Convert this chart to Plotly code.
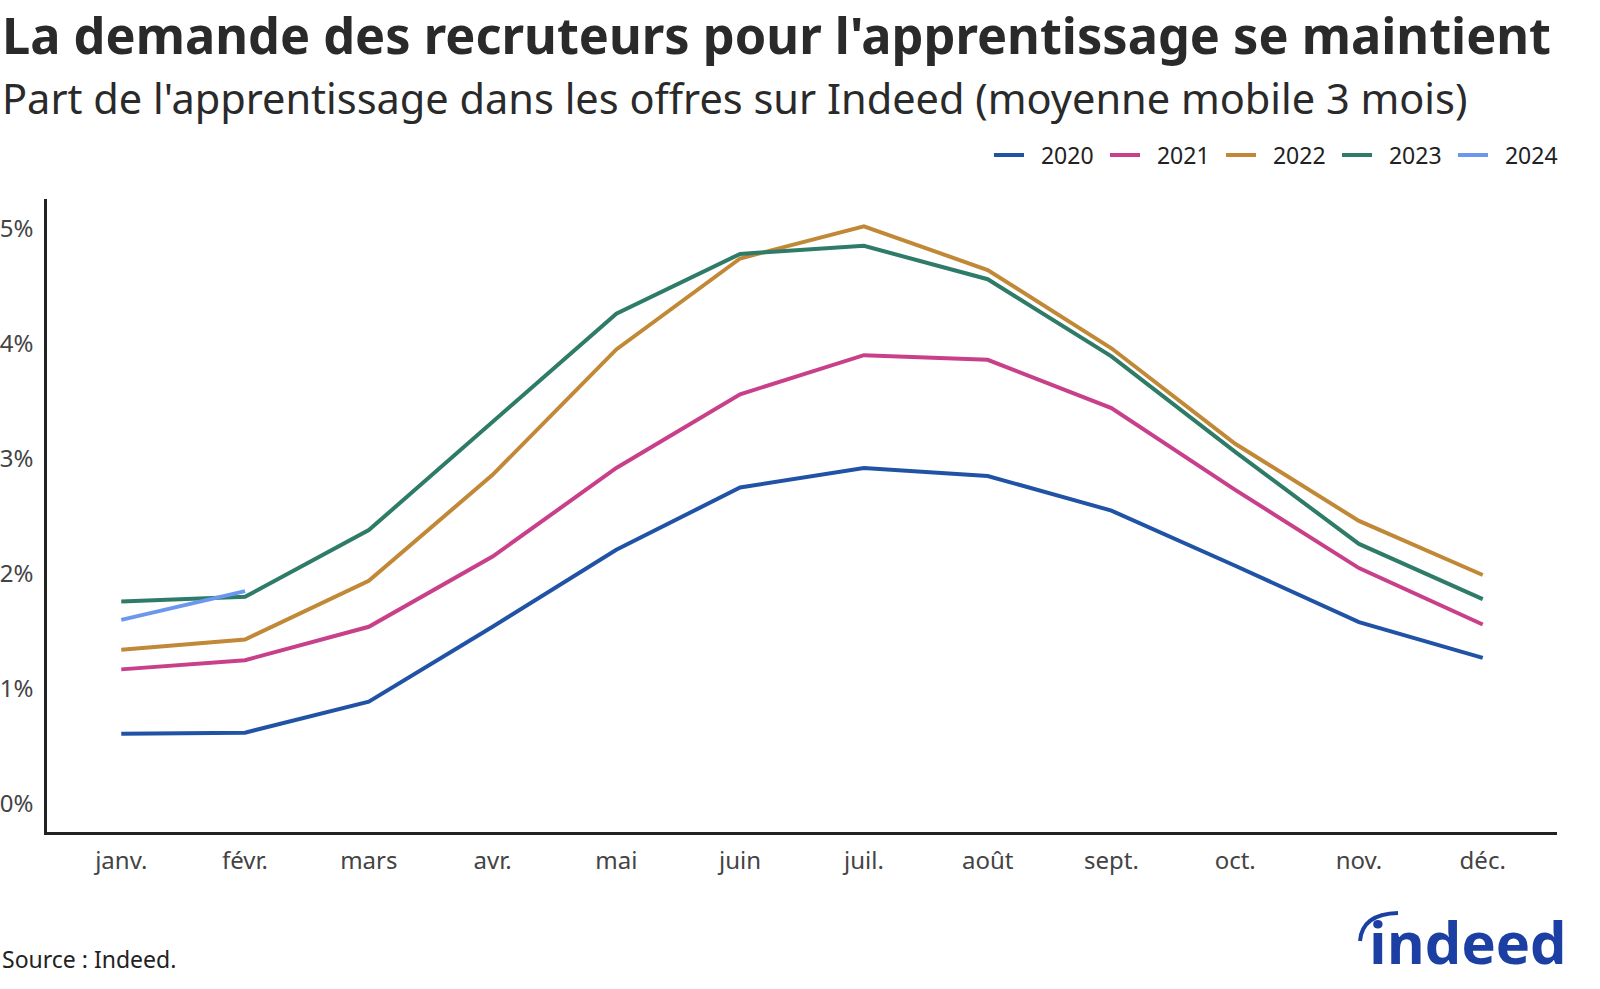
import plotly.graph_objects as go

months = ["janv.", "févr.", "mars", "avr.", "mai", "juin", "juil.", "août", "sept.", "oct.", "nov.", "déc."]
y2020 = [0.61, 0.62, 0.89, 1.54, 2.21, 2.75, 2.92, 2.85, 2.55, 2.07, 1.58, 1.27]
y2021 = [1.17, 1.25, 1.54, 2.15, 2.92, 3.56, 3.90, 3.86, 3.44, 2.73, 2.05, 1.56]
y2022 = [1.34, 1.43, 1.94, 2.86, 3.95, 4.74, 5.02, 4.64, 3.96, 3.13, 2.46, 1.99]
y2023 = [1.76, 1.80, 2.38, 3.32, 4.26, 4.78, 4.85, 4.56, 3.89, 3.06, 2.26, 1.78]
y2024 = [1.60, 1.85]
series = [("2020", y2020, "#2053a6"), ("2021", y2021, "#c9408a"), ("2022", y2022, "#c18937"),
          ("2023", y2023, "#2e7b68"), ("2024", y2024, "#6b98ee")]
yticks = [0, 1, 2, 3, 4, 5]
ytick_text = ["0%", "1%", "2%", "3%", "4%", "5%"]

W, H = 1600, 989
# plot area in page pixels: x 47..1557, y 199..832
L, R, T, B = 47, 1600 - 1557, 199, 989 - 832
pw, ph = W - L - R, H - T - B

def px(x):
    return (x - L) / pw

def py(y):
    return (H - B - y) / ph

fig = go.Figure()
for name, vals, col in series:
    fig.add_trace(go.Scatter(x=list(range(len(vals))), y=vals, mode="lines",
                             name="\u00a0\u00a0" + name, line=dict(color=col, width=4)))

font = "Noto Sans, Open Sans, sans-serif"
fig.update_layout(
    width=W, height=H, margin=dict(l=L, r=R, t=T, b=B, autoexpand=False),
    paper_bgcolor="white", plot_bgcolor="white",
    font=dict(family=font, color="#222"),
    showlegend=True,
    legend=dict(orientation="h", x=px(1569), xanchor="right", y=py(155), yanchor="middle",
                font=dict(size=23, color="#222"), itemwidth=30, traceorder="normal",
                entrywidth=71, entrywidthmode="pixels"),
    xaxis=dict(range=[-0.6, 11.6], tickmode="array", tickvals=list(range(12)), ticktext=months,
               showline=True, linecolor="#222", linewidth=2.5, showgrid=False, zeroline=False,
               ticks="", tickfont=dict(size=24, color="#444"), automargin=False,
               ticklabelstandoff=5),
    yaxis=dict(range=[-0.243, 5.257], tickmode="array", tickvals=yticks, ticktext=ytick_text,
               showline=True, linecolor="#222", linewidth=2.5, showgrid=False, zeroline=False,
               ticks="", tickfont=dict(size=24, color="#444"), automargin=False,
               ticklabelstandoff=6),
)
fig.add_annotation(text="<b>La demande des recruteurs pour l'apprentissage se maintient</b>",
                   xref="paper", yref="paper", x=px(0), y=py(34.5), xanchor="left", yanchor="middle",
                   showarrow=False, font=dict(size=50.5, color="#2a2a2a", family=font))
fig.add_annotation(text="Part de l'apprentissage dans les offres sur Indeed (moyenne mobile 3 mois)",
                   xref="paper", yref="paper", x=px(0), y=py(98), xanchor="left", yanchor="middle",
                   showarrow=False, font=dict(size=41.5, color="#2a2a2a", family=font))
fig.add_annotation(text="Source : Indeed.", xref="paper", yref="paper", x=px(0), y=py(959),
                   xanchor="left", yanchor="middle", showarrow=False,
                   font=dict(size=23, color="#222", family=font))
fig.add_annotation(text="<b>indeed</b>", xref="paper", yref="paper", x=px(1569), y=py(941),
                   xanchor="right", yanchor="middle", showarrow=False,
                   font=dict(size=58, color="#1c3fa3", family="Open Sans, Noto Sans, sans-serif"))
fig.add_shape(type="path", xref="paper", yref="paper",
              path=f"M {px(1360)} {py(941)} Q {px(1362)} {py(914)} {px(1398)} {py(913)}",
              line=dict(color="#1c3fa3", width=4))
fig.write_html("out.html", config={"displayModeBar": False},
               post_script="document.body.style.margin='0px';")
